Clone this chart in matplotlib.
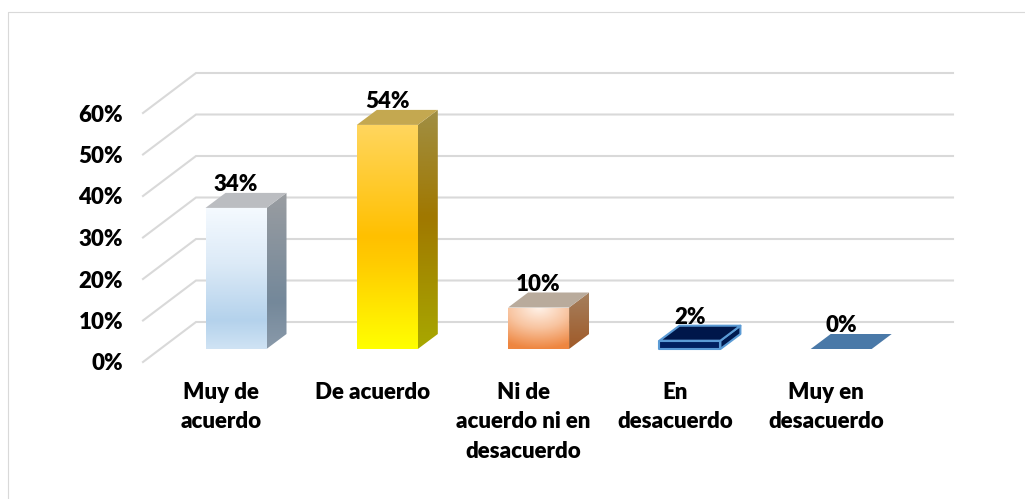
import numpy as np
import matplotlib
matplotlib.use('Agg')
import matplotlib.pyplot as plt
from matplotlib.colors import LinearSegmentedColormap
from matplotlib.patches import Polygon
from matplotlib.lines import Line2D

categories = ['Muy de\nacuerdo', 'De acuerdo', 'Ni de\nacuerdo ni en\ndesacuerdo', 'En\ndesacuerdo', 'Muy en\ndesacuerdo']
values = [34, 54, 10, 2, 0]
value_labels = ['34%', '54%', '10%', '2%', '0%']
ticks = [0, 10, 20, 30, 40, 50, 60]
tick_labels = ['0%', '10%', '20%', '30%', '40%', '50%', '60%']

front_stops = [
    [(0, '#F5FAFF'), (0.4, '#DCEAF7'), (0.8, '#B4D2EC'), (1, '#D0E3F4')],
    [(0, '#FFD65F'), (0.5, '#FFC000'), (0.62, '#FFCC00'), (1, '#FFFF00')],
    [(0, '#FFF3EA'), (0.5, '#F8C4A0'), (1, '#EE8640')],
]
side_stops = [
    [(0, '#9A9DA1'), (0.7, '#74889A'), (1, '#8A9AAA')],
    [(0, '#A08F45'), (0.45, '#A07800'), (1, '#A8A800')],
    [(0, '#A5805F'), (1, '#A05A28')],
]
top_colors = ['#BBBDC1', '#C4A850', '#B9AB9C', '#00174A', '#4A79A8']

plt.rcParams['font.family'] = ['Lato', 'DejaVu Sans']

PX_X = 1 / 151.3   # one pixel in category units
PX_Y = 1 / 4.15    # one pixel in percent units
DX = 20 * PX_X
DY = 15 * PX_Y
HALF = 30.5 * PX_X
FONT = dict(fontsize=16, fontweight='heavy', color='black', zorder=5)

fig = plt.figure(figsize=(10.25, 4.99), dpi=100)
ax = fig.add_axes([0, 0, 1, 1])
ax.axis('off')


def shade(stops, extent, clip, radial=False):
    cmap = LinearSegmentedColormap.from_list('g', stops)
    if radial:
        # light spot at the top middle of the face
        yy, xx = np.mgrid[0:1:128j, -1:1:128j]
        arr = np.clip(np.sqrt(xx ** 2 * 0.25 + yy ** 2), 0, 1)
    else:
        arr = np.linspace(0, 1, 256).reshape(-1, 1)
    img = ax.imshow(arr, cmap=cmap, vmin=0, vmax=1, extent=extent,
                    aspect='auto', origin='upper', zorder=3)
    img.set_clip_path(clip)


# gridlines with the slanted floor part
for t in ticks:
    y0 = t - 13 * PX_Y
    y1 = t + 27 * PX_Y
    ax.plot([-93 * PX_X, -40 * PX_X, 717 * PX_X], [y0, y1, y1], color='#D9D9D9',
            lw=1.5, solid_joinstyle='miter', zorder=1)

for i, v in enumerate(values):
    l, r = i - HALF, i + HALF
    front = [(l, 0), (r, 0), (r, v), (l, v)]
    side = [(r, 0), (r + DX, DY), (r + DX, v + DY), (r, v)]
    top = [(l, v), (r, v), (r + DX, v + DY), (l + DX, v + DY)]
    if i < 3:
        p = Polygon(front, fc='none', ec='none')
        ax.add_patch(p)
        shade(front_stops[i], (l, r, 0, v), p, radial=(i == 2))
        p = Polygon(side, fc='none', ec='none')
        ax.add_patch(p)
        shade(side_stops[i], (r, r + DX, 0, v + DY), p)
        ax.add_patch(Polygon(top, fc=top_colors[i], ec='none', zorder=3))
    elif v > 0:
        for pts, c in [(front, '#002060'), (side, '#001A50'), (top, top_colors[i])]:
            ax.add_patch(Polygon(pts, fc=c, ec='#5B9BD5', lw=1.5, joinstyle='round', zorder=3))
    else:
        ax.add_patch(Polygon(top, fc=top_colors[i], ec='none', zorder=3))
    ax.text(i, v + DY + 8 * PX_Y, value_labels[i], ha='center', va='center', **FONT)
    ax.text(i - 15 * PX_X, -33 * PX_Y, categories[i], ha='center', va='top',
            linespacing=1.5, **FONT)

for t, lab in zip(ticks, tick_labels):
    ax.text(-113 * PX_X, t - 15 * PX_Y, lab, ha='right', va='center', **FONT)

ax.set_xlim(-236 * PX_X, 789 * PX_X)
ax.set_ylim(-150 * PX_Y, 349 * PX_Y)

# outer border of the picture, only left and top
fig.add_artist(Line2D([7.5 / 1025, 7.5 / 1025, 1],
                      [0, 1 - 11.5 / 499, 1 - 11.5 / 499],
                      transform=fig.transFigure, color='#D9D9D9', lw=0.8))

fig.savefig('out.png', dpi=100)
